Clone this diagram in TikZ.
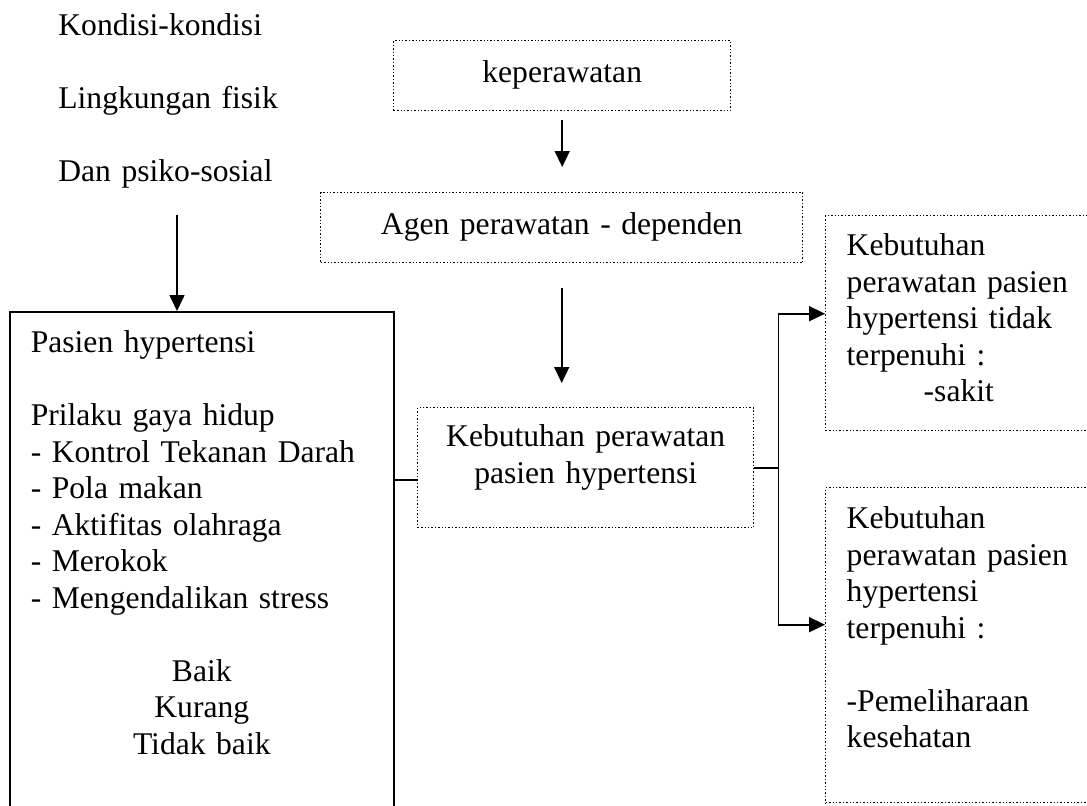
\documentclass[tikz,border=0pt]{standalone}
\usepackage{fontspec}
\setmainfont{Liberation Serif}
\usetikzlibrary{arrows.meta}

\begin{document}
\begin{tikzpicture}[x=0.5pt, y=-0.5pt,
  every node/.style={inner sep=0pt, font=\fontsize{15.8pt}{18.25pt}\selectfont},
  dbox/.style={draw, densely dotted, line width=0.7pt, anchor=north west},
  sbox/.style={draw, line width=0.8pt, anchor=north west},
  arrow/.style={-{Triangle[width=7.5pt, length=8pt]}, line width=0.8pt}]
\useasboundingbox (0,0) rectangle (1087,805);

% left column
\node[anchor=north west, text width=130pt, align=left, text height=12pt] (kondisi) at (58,11)
  {Kondisi-kondisi\\[\baselineskip] Lingkungan fisik\\[\baselineskip] Dan psiko-sosial};
\node[sbox, inner xsep=10.5pt, text width=171pt, align=left, text height=20.5pt, text depth=239pt] (pasien) at (9,311)
  {Pasien hypertensi\\[\baselineskip] Prilaku gaya hidup\\ - Kontrol Tekanan Darah\\ - Pola makan\\
   - Aktifitas olahraga\\ - Merokok\\ - Mengendalikan stress\par
   \vspace{\baselineskip}\centering Baik\\ Kurang\\ Tidak baik\par};

% middle column
\node[dbox, text width=168.5pt, align=center, text height=21pt, text depth=14pt] (keper) at (393,40) {keperawatan};
\node[dbox, text width=241pt, align=center, text height=21pt, text depth=14pt] (agen) at (320,192) {Agen perawatan - dependen};
\node[dbox, text width=168pt, align=center, text height=19.5pt, text depth=40.5pt] (mid) at (417,407)
  {Kebutuhan perawatan\\ pasien hypertensi};

% right column
\node[dbox, inner xsep=10.5pt, text width=116.5pt, align=left, text height=20pt, text depth=87.5pt] (tidak) at (825,215)
  {Kebutuhan\\ perawatan pasien\\ hypertensi tidak\\ terpenuhi :\\ \hspace*{38.5pt}-sakit};
\node[dbox, inner xsep=10.5pt, text width=116.5pt, align=left, text height=20.5pt, text depth=137pt] (penuhi) at (825,487)
  {Kebutuhan\\ perawatan pasien\\ hypertensi\\ terpenuhi :\\[\baselineskip] -Pemeliharaan\\ kesehatan};

% connectors
\coordinate (k1) at (177,215);
\draw[arrow] (k1) -- (k1 |- pasien.north);
\draw[arrow, shorten <=4.5pt, shorten >=12.5pt] (keper.south) -- (keper.south |- agen.north);
\draw[arrow, shorten <=12.5pt, shorten >=12pt] (agen.south) -- (agen.south |- mid.north);
\draw[line width=0.8pt] ([yshift=-6pt]mid.west) -- ([yshift=-6pt]mid.west -| pasien.east);
\coordinate (fork) at ([xshift=12pt]mid.east);
\draw[line width=0.8pt] (mid.east) -- (fork);
\draw[arrow] (fork) |- ([yshift=4.75pt]tidak.west);
\draw[arrow] (fork) |- ([yshift=10.25pt]penuhi.west);
\end{tikzpicture}
\end{document}
